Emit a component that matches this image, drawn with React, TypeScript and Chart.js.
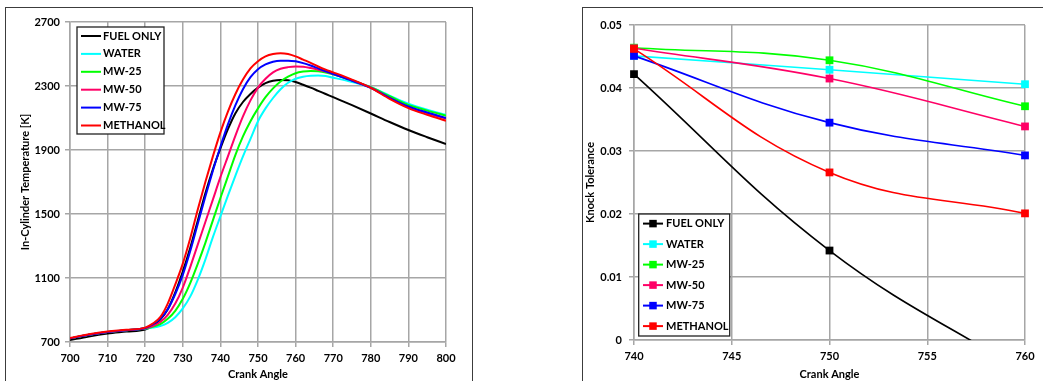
import React, { useEffect, useRef } from "react";
import { Chart, registerables } from "chart.js";

Chart.register(...registerables);

// ---------------- data ----------------
const SERIES_NAMES = ["FUEL ONLY", "WATER", "MW-25", "MW-50", "MW-75", "METHANOL"];
const SERIES_COLORS = ["#000000", "#00FFFF", "#00FF00", "#FF0066", "#0000FF", "#FF0000"];

// Left chart: in-cylinder temperature vs crank angle
const TEMP_ANGLES = [700, 705, 710, 715, 720, 722, 724, 726, 728, 730, 732, 734, 736, 738, 740, 742, 744, 746, 748, 750, 752, 754, 756, 758, 760, 762, 764, 766, 768, 770, 775, 780, 785, 790, 795, 800];
const TEMP_FUEL_ONLY = [712, 735, 753, 765, 778, 800, 840, 905, 1010, 1140, 1290, 1460, 1630, 1780, 1910, 2030, 2130, 2200, 2250, 2290, 2318, 2333, 2338, 2336, 2325, 2308, 2290, 2270, 2250, 2230, 2180, 2128, 2075, 2025, 1980, 1937];
const TEMP_WATER = [723, 745, 762, 773, 784, 790, 800, 820, 855, 910, 985, 1090, 1215, 1355, 1485, 1615, 1740, 1860, 1970, 2080, 2160, 2225, 2280, 2320, 2345, 2358, 2364, 2365, 2362, 2352, 2325, 2292, 2240, 2190, 2152, 2120];
const TEMP_MW25 = [723, 745, 762, 773, 785, 795, 812, 845, 895, 970, 1070, 1190, 1320, 1460, 1600, 1735, 1870, 1985, 2080, 2160, 2230, 2285, 2328, 2358, 2380, 2390, 2394, 2392, 2385, 2373, 2335, 2292, 2236, 2182, 2146, 2115];
const TEMP_MW50 = [723, 745, 762, 773, 786, 800, 825, 870, 940, 1040, 1170, 1310, 1450, 1590, 1730, 1860, 1990, 2110, 2210, 2290, 2345, 2385, 2408, 2418, 2422, 2420, 2412, 2402, 2390, 2377, 2335, 2290, 2225, 2168, 2130, 2096];
const TEMP_MW75 = [723, 745, 762, 773, 788, 810, 845, 905, 1000, 1120, 1270, 1440, 1610, 1770, 1920, 2060, 2180, 2280, 2355, 2405, 2435, 2452, 2458, 2458, 2454, 2443, 2428, 2410, 2392, 2375, 2333, 2288, 2226, 2172, 2134, 2100];
const TEMP_METHANOL = [725, 748, 765, 776, 790, 815, 855, 940, 1060, 1190, 1350, 1530, 1700, 1860, 2010, 2140, 2250, 2340, 2410, 2455, 2485, 2500, 2505, 2500, 2485, 2465, 2445, 2422, 2402, 2385, 2340, 2288, 2220, 2162, 2120, 2083];
const TEMP_X_TICKS = [700, 710, 720, 730, 740, 750, 760, 770, 780, 790, 800];
const TEMP_Y_TICKS = [700, 1100, 1500, 1900, 2300, 2700];

// Right chart: knock tolerance vs crank angle
const KNOCK_ANGLES = [740, 750, 760];
const KNOCK_FUEL_ONLY = [0.0422, 0.0142, -0.0052];
const KNOCK_WATER = [0.0451, 0.0429, 0.0406];
const KNOCK_MW25 = [0.0464, 0.0444, 0.0371];
const KNOCK_MW50 = [0.0463, 0.0415, 0.0339];
const KNOCK_MW75 = [0.0451, 0.0345, 0.0293];
const KNOCK_METHANOL = [0.0462, 0.0266, 0.0201];
const KNOCK_X_TICKS = [740, 745, 750, 755, 760];
const KNOCK_Y_TICKS = [0, 0.01, 0.02, 0.03, 0.04, 0.05];

// ---------------- styling ----------------
const FONT_FAMILY = "Lato, 'Liberation Sans', Arial, sans-serif";
const boldFont = { family: FONT_FAMILY, size: 11, weight: "bold" as const };
const GRID_COLOR = "#a6a6a6";

type LegendCfg = {
  dx: number; dy: number; w: number; h: number;
  row0: number; gap: number; line0: number; line1: number; textX: number;
  markers: boolean;
};

const makeLegend = (cfg: LegendCfg) => ({
  id: "boxLegend",
  afterDraw(chart: any) {
    const { ctx, chartArea } = chart;
    const x = chartArea.left + cfg.dx;
    const y = chartArea.top + cfg.dy;
    ctx.save();
    ctx.fillStyle = "#ffffff";
    ctx.fillRect(x, y, cfg.w, cfg.h);
    ctx.strokeStyle = "#222222";
    ctx.lineWidth = 1.3;
    ctx.strokeRect(x, y, cfg.w, cfg.h);
    chart.data.datasets.forEach((ds: any, i: number) => {
      const cy = y + cfg.row0 + i * cfg.gap;
      ctx.strokeStyle = ds.borderColor;
      ctx.lineWidth = 2;
      ctx.beginPath();
      ctx.moveTo(x + cfg.line0, cy);
      ctx.lineTo(x + cfg.line1, cy);
      ctx.stroke();
      if (cfg.markers) {
        const s = 7.5;
        ctx.fillStyle = ds.borderColor;
        ctx.fillRect(x + (cfg.line0 + cfg.line1) / 2 - s / 2, cy - s / 2, s, s);
      }
      ctx.fillStyle = "#000000";
      ctx.font = `bold 11px ${FONT_FAMILY}`;
      ctx.textBaseline = "middle";
      ctx.textAlign = "left";
      ctx.fillText(ds.label, x + cfg.textX, cy);
    });
    ctx.restore();
  },
});

const makeScale = (
  ticksList: number[],
  fitKey: "width" | "height",
  fitValue: number,
  title: string,
  titlePad: any,
  tickPad: number,
) => ({
  type: "linear" as const,
  min: ticksList[0],
  max: ticksList[ticksList.length - 1],
  afterBuildTicks: (s: any) => {
    s.ticks = ticksList.map((v) => ({ value: v }));
  },
  afterFit: (s: any) => {
    s[fitKey] = fitValue;
  },
  grid: { color: GRID_COLOR, lineWidth: 1.5, tickLength: 5, drawTicks: true },
  border: { color: GRID_COLOR, width: 1.5 },
  ticks: {
    color: "#000000",
    font: boldFont,
    padding: tickPad,
    maxRotation: 0,
    autoSkip: false,
    callback: (v: any) => String(v),
  },
  title: { display: true, text: title, color: "#000000", font: boldFont, padding: titlePad },
});

function TempChart() {
  const ref = useRef<HTMLCanvasElement>(null);
  useEffect(() => {
    const series = [TEMP_FUEL_ONLY, TEMP_WATER, TEMP_MW25, TEMP_MW50, TEMP_MW75, TEMP_METHANOL];
    const chart = new Chart(ref.current as HTMLCanvasElement, {
      type: "line",
      data: {
        datasets: series.map((vals, i) => ({
          label: SERIES_NAMES[i],
          data: vals.map((v, j) => ({ x: TEMP_ANGLES[j], y: v })),
          borderColor: SERIES_COLORS[i],
          backgroundColor: SERIES_COLORS[i],
          borderWidth: 2,
          pointRadius: 0,
          cubicInterpolationMode: "monotone" as const,
          fill: false,
          order: series.length - i,
        })),
      },
      options: {
        responsive: false,
        animation: false,
        layout: { padding: { left: 0, top: 22, right: 34, bottom: 0 } },
        plugins: { legend: { display: false }, tooltip: { enabled: false } },
        scales: {
          x: makeScale(TEMP_X_TICKS, "height", 39, "Crank Angle", { top: 0, bottom: 0 }, 5),
          y: makeScale(TEMP_Y_TICKS, "width", 70, "In-Cylinder Temperature [K]", { top: 19, bottom: 0 }, 5),
        },
      } as any,
      plugins: [
        makeLegend({ dx: 7, dy: 5, w: 87, h: 107, row0: 9, gap: 17.9, line0: 4, line1: 24, textX: 26, markers: false }),
      ],
    });
    return () => chart.destroy();
  }, []);
  return <canvas ref={ref} width={480} height={381} style={{ position: "absolute", left: 0, top: 0 }} />;
}

function KnockChart() {
  const ref = useRef<HTMLCanvasElement>(null);
  useEffect(() => {
    const series = [KNOCK_FUEL_ONLY, KNOCK_WATER, KNOCK_MW25, KNOCK_MW50, KNOCK_MW75, KNOCK_METHANOL];
    const chart = new Chart(ref.current as HTMLCanvasElement, {
      type: "line",
      data: {
        datasets: series.map((vals, i) => ({
          label: SERIES_NAMES[i],
          data: vals.map((v, j) => ({ x: KNOCK_ANGLES[j], y: v })),
          borderColor: SERIES_COLORS[i],
          backgroundColor: SERIES_COLORS[i],
          borderWidth: 1.6,
          pointStyle: "rect",
          pointRadius: 5.5,
          pointBorderWidth: 0,
          tension: 0.4,
          fill: false,
          clip: { left: 10, right: 10, top: 10, bottom: 0 },
          order: series.length - i,
        })),
      },
      options: {
        responsive: false,
        animation: false,
        layout: { padding: { left: 0, top: 25, right: 18, bottom: 0 } },
        plugins: { legend: { display: false }, tooltip: { enabled: false } },
        scales: {
          x: makeScale(KNOCK_X_TICKS, "height", 41, "Crank Angle", { top: 0, bottom: 0 }, 5),
          y: makeScale(KNOCK_Y_TICKS, "width", 52, "Knock Tolerance", { top: 2, bottom: 0 }, 7),
        },
      } as any,
      plugins: [
        makeLegend({ dx: 4.7, dy: 189, w: 91, h: 122, row0: 9.6, gap: 20.5, line0: 4.3, line1: 24.3, textX: 27.3, markers: true }),
      ],
    });
    return () => chart.destroy();
  }, []);
  return <canvas ref={ref} width={461} height={381} style={{ position: "absolute", left: 582, top: 0 }} />;
}

export default function App() {
  return (
    <div style={{ position: "absolute", left: 0, top: 0, width: 1043, height: 381, overflow: "hidden", background: "#ffffff" }}>
      <div style={{ position: "absolute", left: 5, top: 7, width: 468, height: 400, border: "1px solid #3c3c3c", boxSizing: "border-box" }} />
      <div style={{ position: "absolute", left: 582, top: 7, width: 480, height: 400, border: "1px solid #3c3c3c", boxSizing: "border-box" }} />
      <TempChart />
      <KnockChart />
    </div>
  );
}
